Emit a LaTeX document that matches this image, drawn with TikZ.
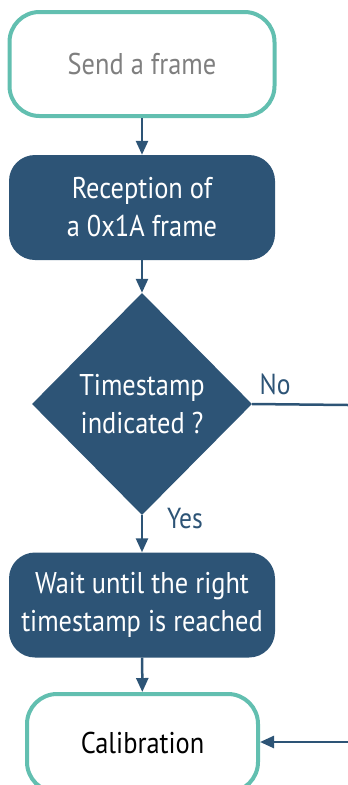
\documentclass[tikz,border=0pt]{standalone}
\usepackage{fontspec}
\setmainfont[FakeStretch=0.88]{PT Sans}
\usetikzlibrary{shapes.geometric,arrows.meta}
\definecolor{teal1}{HTML}{62BFB0}
\definecolor{navy1}{HTML}{2D5476}
\definecolor{gray1}{HTML}{7F7F7F}
\begin{document}
\begin{tikzpicture}[x=1pt,y=-1pt,
  txt/.style={font=\fontsize{30}{38}\selectfont, align=center},
  startbox/.style={txt, draw=teal1, line width=4pt, fill=white, rounded corners=30pt, inner sep=0pt},
  procbox/.style={txt, fill=navy1, text=white, rounded corners=26pt, inner sep=0pt, minimum width=266pt, minimum height=105pt},
  decbox/.style={txt, diamond, fill=navy1, text=white, inner sep=0pt, minimum width=220pt, minimum height=222pt},
  conn/.style={draw=navy1, line width=2.5pt, -{Triangle[width=12pt,length=14pt]}},
  lbl/.style={font=\fontsize{29}{32}\selectfont, text=navy1}
]
\useasboundingbox (0,0) rectangle (348,785);
\clip (0,0) rectangle (348,785);
\node[startbox, text=gray1, minimum width=265pt, minimum height=104pt] (send) at (142,64) {Send a frame};
\node[procbox] (recv) at (142,207.5) {Reception of\\a 0x1A frame};
\node[decbox] (dec) at (142,404) {Timestamp\\indicated ?};
\node[procbox] (wait) at (142,605) {Wait until the right\\timestamp is reached};
\node[startbox, text=black, minimum width=231pt, minimum height=98pt] (cal) at (142.5,743) {Calibration};
\coordinate (noend) at (348,405);
\coordinate (inend) at (348,742);
\draw[conn] (send) -- (recv);
\draw[conn] (recv) -- (dec);
\draw[conn] (dec) -- (wait);
\draw[conn] (wait) -- (cal);
\draw[draw=navy1, line width=2.5pt] (dec.east) -- (noend);
\draw[conn] (inend) -- (cal.east |- inend);
\node[lbl] (no) at (275,384) {No};
\node[lbl] (yes) at (185,519) {Yes};
\end{tikzpicture}
\end{document}
